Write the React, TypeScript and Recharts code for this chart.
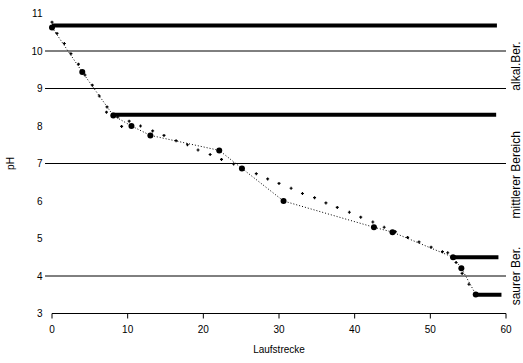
import React from "react";
import { ComposedChart, Scatter, XAxis, YAxis, ReferenceLine, Label } from "recharts";

// pH along the run (large markers, joined by a dotted line)
const stationX = [0, 4, 8.1, 10.5, 13, 22.1, 25.1, 30.6, 42.55, 45, 53, 54.1, 56];
const stationPH = [10.63, 9.44, 8.28, 8.0, 7.75, 7.35, 6.87, 6.0, 5.3, 5.17, 4.5, 4.21, 3.51];

// single readings (small markers)
const readingX = [
  0, 0.66, 1.63, 2.5, 3.5, 4.36, 5.33, 6.25, 7.27, 7.2, 8.7, 10.2, 9.2, 11.7, 13.3, 14.8, 16.4,
  17.9, 19.3, 20.9, 22.4, 24.0, 27.0, 28.5, 30.0, 31.6, 33.1, 34.7, 36.2, 37.7, 39.3, 40.8, 42.4,
  43.9, 45.4, 47.0, 48.5, 50.1, 51.6, 52.3, 53.4, 54.2, 55.1,
];
const readingPH = [
  10.77, 10.47, 10.2, 9.93, 9.65, 9.36, 9.09, 8.8, 8.51, 8.37, 8.24, 8.13, 7.99, 8.0, 7.87, 7.75,
  7.61, 7.5, 7.36, 7.24, 7.11, 6.99, 6.73, 6.59, 6.47, 6.34, 6.2, 6.09, 5.95, 5.83, 5.7, 5.57, 5.44,
  5.3, 5.18, 5.03, 4.91, 4.77, 4.65, 4.62, 4.36, 4.07, 3.78,
];

const gridPH = [10, 9, 7, 4];
const gridStart = -0.92;

// thick level bars
const barPH = [10.68, 8.3, 4.5, 3.5];
const barStart = [0, 7.9, 53, 56];
const barEnd = [58.8, 58.7, 59, 59.4];

const zoneNames = ["alkal.Ber.", "mittlerer Bereich", "saurer Ber."];
const zonePH = [9.6, 6.7, 4.0];

const xTicks = [0, 10, 20, 30, 40, 50, 60];
const yTicks = [3, 4, 5, 6, 7, 8, 9, 10, 11];

const FONT = "'Liberation Sans', Arial, sans-serif";

const stations = stationX.map((x, i) => ({ x, y: stationPH[i] }));
const readings = readingX.map((x, i) => ({ x, y: readingPH[i] }));

const BigDot = (p: any) => <circle cx={p.cx} cy={p.cy} r={3} fill="#000" />;
const SmallDot = (p: any) => (
  <path d={`M${p.cx - 1.5},${p.cy}h3M${p.cx},${p.cy - 1.5}v3`} stroke="#000" strokeWidth={1.2} />
);

export default function App() {
  return (
    <div style={{ position: "absolute", left: 0, top: 0, fontFamily: FONT }}>
      <ComposedChart width={523} height={363} margin={{ top: 13.5, right: 17, bottom: 0, left: 0 }}>
        <XAxis
          type="number"
          dataKey="x"
          domain={[0, 60]}
          ticks={xTicks}
          height={49.5}
          tick={{ fill: "#000", fontSize: 10, fontFamily: FONT }}
          tickSize={5}
          tickMargin={7}
          axisLine={{ stroke: "#000" }}
          tickLine={{ stroke: "#000" }}
        >
          <Label value="Laufstrecke" position="insideBottom" offset={10} fill="#000" fontSize={10} fontFamily={FONT} />
        </XAxis>
        <YAxis
          type="number"
          dataKey="y"
          domain={[3, 11]}
          ticks={yTicks}
          width={52}
          tick={{ fill: "#000", fontSize: 10, fontFamily: FONT }}
          tickMargin={3.5}
          axisLine={false}
          tickLine={false}
        >
          <Label
            content={(props: any) => {
              const vb = props.viewBox;
              const cx = vb.x + 10;
              const cy = vb.y + vb.height / 2;
              return (
                <text
                  x={cx}
                  y={cy}
                  transform={`rotate(-90, ${cx}, ${cy})`}
                  textAnchor="middle"
                  dominantBaseline="central"
                  fontSize={10}
                  fontFamily={FONT}
                  fill="#000"
                >
                  pH
                </text>
              );
            }}
          />
        </YAxis>

        {gridPH.map((v) => (
          <ReferenceLine
            key={`g${v}`}
            segment={[
              { x: gridStart, y: v },
              { x: 60, y: v },
            ]}
            ifOverflow="visible"
            stroke="#000"
            strokeWidth={1}
          />
        ))}

        {barPH.map((v, i) => (
          <ReferenceLine
            key={`b${i}`}
            segment={[
              { x: barStart[i], y: v },
              { x: barEnd[i], y: v },
            ]}
            ifOverflow="visible"
            stroke="#000"
            strokeWidth={4}
          />
        ))}

        {zoneNames.map((name, i) => (
          <ReferenceLine
            key={`z${i}`}
            y={zonePH[i]}
            stroke="none"
            ifOverflow="visible"
            label={(props: any) => {
              const vb = props.viewBox;
              const tx = vb.x + vb.width + 10;
              const ty = vb.y;
              return (
                <text
                  x={tx}
                  y={ty}
                  transform={`rotate(-90, ${tx}, ${ty})`}
                  textAnchor="middle"
                  dominantBaseline="central"
                  fontSize={12}
                  fontFamily={FONT}
                  fill="#000"
                >
                  {name}
                </text>
              );
            }}
          />
        ))}

        <Scatter data={readings} shape={SmallDot} isAnimationActive={false} />
        <Scatter
          data={stations}
          shape={BigDot}
          line={{ stroke: "#000", strokeWidth: 1, strokeDasharray: "1 2" }}
          isAnimationActive={false}
        />
      </ComposedChart>
    </div>
  );
}
